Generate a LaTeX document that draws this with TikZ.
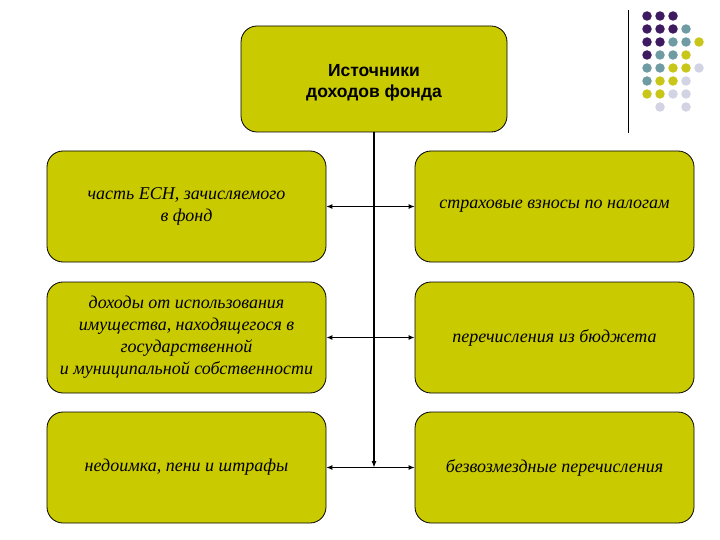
\documentclass[tikz,border=0pt]{standalone}
\usepackage{fontspec}
\setmainfont{Liberation Serif}
\newfontfamily\headfont{Liberation Sans}
\usetikzlibrary{arrows.meta}
\definecolor{boxfill}{HTML}{CACA00}
\definecolor{dotP}{HTML}{3E1A60}
\definecolor{dotT}{HTML}{6E9CA2}
\definecolor{dotY}{HTML}{C9C61A}
\definecolor{dotL}{HTML}{D2D3E3}
\tikzset{
  srcbox/.style={draw=black, line width=0.8pt, fill=boxfill, rounded corners=16pt, align=center, inner sep=0pt},
  lowbox/.style={srcbox, minimum width=279pt, minimum height=111pt, font=\fontsize{18}{22}\selectfont\itshape},
  conn/.style={line width=0.9pt, {Latex[length=6pt,width=5pt]}-{Latex[length=6pt,width=5pt]}},
  trunk/.style={line width=1.4pt, -{Latex[length=7pt,width=5pt]}},
  dot/.style={circle, inner sep=0pt, minimum size=9.5pt, draw=none},
}
\begin{document}
\begin{tikzpicture}[x=1pt,y=-1pt]
\useasboundingbox (0,0) rectangle (720,540);
% decoration
\draw[line width=1pt] (628,10) -- (628,133);
\foreach \c/\r/\col in {0/0/dotP,1/0/dotP,2/0/dotP,
  0/1/dotP,1/1/dotP,2/1/dotP,3/1/dotT,
  0/2/dotP,1/2/dotP,2/2/dotT,3/2/dotT,4/2/dotY,
  0/3/dotP,1/3/dotT,2/3/dotT,3/3/dotY,
  0/4/dotT,1/4/dotT,2/4/dotY,3/4/dotY,4/4/dotL,
  0/5/dotT,1/5/dotY,2/5/dotY,3/5/dotL,
  0/6/dotY,1/6/dotY,2/6/dotL,3/6/dotL,
  1/7/dotL,3/7/dotL}
  \node[dot, fill=\col] (d\c\r) at ({647+13*\c},{16+13*\r}) {};
% top box
\node[srcbox, minimum width=266pt, minimum height=106pt] (top) at (374,79) {};
\node[font=\headfont\bfseries\fontsize{17.5}{21}\selectfont, align=center, inner sep=0pt] (toptext) at (374,83) {Источники\\доходов фонда};
% lower boxes
\node[lowbox] (l1) at (186.5,206.5) {часть ЕСН, зачисляемого\\в фонд};
\node[lowbox] (r1) at (554.5,206.5) {страховые взносы по налогам};
\node[lowbox] (l2) at (186.5,337.5) {доходы от использования\\имущества, находящегося в\\государственной\\и муниципальной собственности};
\node[lowbox] (r2) at (554.5,337.5) {перечисления из бюджета};
\node[lowbox] (l3) at (186.5,467.5) {недоимка, пени и штрафы};
\node[lowbox] (r3) at (554.5,467.5) {безвозмездные перечисления};
% connectors
\coordinate (bot) at (374,468);
\draw[trunk] (top.south) -- (bot);
\draw[conn] (l1.east) -- (r1.west);
\draw[conn, line width=1.3pt] (l2.east) -- (r2.west);
\draw[conn] (l3.east) -- (r3.west);
\end{tikzpicture}
\end{document}
